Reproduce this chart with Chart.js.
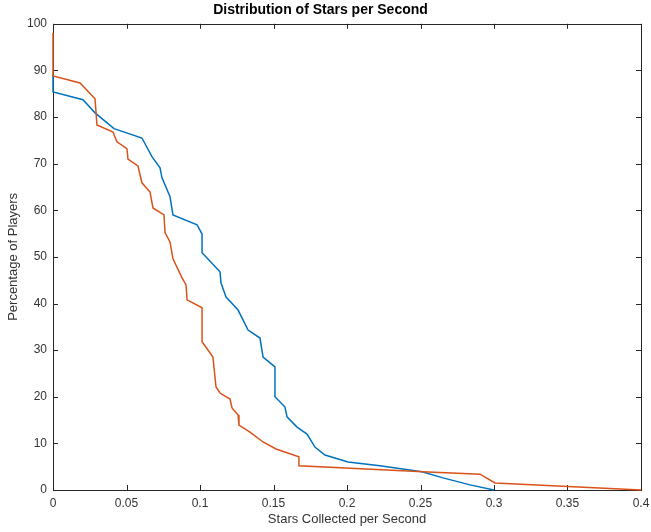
<!DOCTYPE html>
<html lang="en">
<head>
  <meta charset="UTF-8">
  <title>Distribution of Stars per Second</title>
  <style>
    html, body { margin: 0; padding: 0; background: #ffffff; }
    #wrap { width: 651px; height: 532px; }
  </style>
  <script src="https://cdn.jsdelivr.net/npm/chart.js"></script>
</head>
<body>
  <div id="wrap"><canvas id="chart" width="651" height="532"></canvas></div>

  <script>
    // Series (x = stars per second, y = % of players)
    const blueX = [0, 0, 0.0204, 0.0286, 0.0415, 0.0605, 0.0673, 0.0728, 0.0741, 0.0796, 0.0816,
      0.098, 0.1014, 0.1014, 0.1136, 0.1143, 0.1177, 0.1259, 0.1327, 0.1408, 0.1429, 0.151, 0.151,
      0.1578, 0.1592, 0.166, 0.1728, 0.1782, 0.185, 0.2007, 0.2224, 0.251, 0.2653, 0.2837, 0.3];
    const blueY = [89.1, 85.4, 83.7, 80.9, 77.5, 75.5, 71.5, 69.1, 67.0, 62.9, 59.0,
      56.9, 54.9, 50.9, 46.8, 44.4, 41.4, 38.6, 34.3, 32.6, 28.5, 26.4, 20.0,
      17.8, 15.7, 13.5, 12.0, 9.2, 7.5, 6.0, 5.2, 3.9, 2.6, 1.1, 0];

    const orangeX = [0, 0, 0.0184, 0.0286, 0.0299, 0.0408, 0.0435, 0.0503, 0.051, 0.0578, 0.0605,
      0.066, 0.068, 0.0755, 0.0762, 0.0796, 0.0816, 0.0878, 0.0905, 0.0912, 0.1014, 0.1014,
      0.1088, 0.1109, 0.1136, 0.1204, 0.1218, 0.1259, 0.1265, 0.134, 0.1429, 0.1517, 0.1673,
      0.1673, 0.2517, 0.2905, 0.3007, 0.4];
    const orangeY = [98.1, 88.8, 87.3, 83.9, 78.3, 76.8, 74.7, 73.2, 71.0, 69.5, 65.9,
      63.9, 60.5, 59.0, 55.2, 53.2, 49.6, 45.5, 44.0, 40.8, 39.1, 31.8,
      28.5, 22.1, 20.8, 19.5, 17.6, 16.1, 13.9, 12.4, 10.3, 8.8, 7.1,
      5.2, 3.9, 3.4, 1.5, 0];

    const xTicks = [0, 0.05, 0.1, 0.15, 0.2, 0.25, 0.3, 0.35, 0.4];
    const yTicks = [0, 10, 20, 30, 40, 50, 60, 70, 80, 90, 100];

    const toPoints = (xs, ys) => xs.map((x, i) => ({ x: x, y: ys[i] }));

    const axisColor = '#262626';
    const fontFamily = "'Liberation Sans', Arial, Helvetica, sans-serif";

    // MATLAB style box with inward ticks on all four sides (drawn under the lines)
    const boxTicks = {
      id: 'boxTicks',
      beforeDatasetsDraw(chart) {
        const { ctx, chartArea: a, scales } = chart;
        const len = 5;
        ctx.save();
        ctx.strokeStyle = axisColor;
        ctx.lineWidth = 1;
        ctx.beginPath();
        xTicks.forEach(v => {
          const px = Math.round(scales.x.getPixelForValue(v)) + 0.5;
          ctx.moveTo(px, a.bottom); ctx.lineTo(px, a.bottom - len);
          ctx.moveTo(px, a.top); ctx.lineTo(px, a.top + len);
        });
        yTicks.forEach(v => {
          const py = Math.round(scales.y.getPixelForValue(v)) + 0.5;
          ctx.moveTo(a.left, py); ctx.lineTo(a.left + len, py);
          ctx.moveTo(a.right, py); ctx.lineTo(a.right - len, py);
        });
        ctx.stroke();
        ctx.strokeRect(Math.round(a.left) + 0.5, Math.round(a.top) + 0.5,
          Math.round(a.right - a.left), Math.round(a.bottom - a.top));
        ctx.restore();
      }
    };

    new Chart(document.getElementById('chart'), {
      type: 'scatter',
      data: {
        datasets: [
          {
            label: 'orange',
            data: toPoints(orangeX, orangeY),
            borderColor: '#D95319',
            showLine: true,
            borderWidth: 1.5,
            pointRadius: 0,
            tension: 0,
            clip: 3
          },
          {
            label: 'blue',
            data: toPoints(blueX, blueY),
            borderColor: '#0072BD',
            showLine: true,
            borderWidth: 1.5,
            pointRadius: 0,
            tension: 0,
            clip: 3
          }
        ]
      },
      options: {
        responsive: false,
        animation: false,
        layout: { padding: { left: 0, right: 10, top: 0, bottom: 0 } },
        plugins: {
          legend: { display: false },
          tooltip: { enabled: false },
          title: {
            display: true,
            text: 'Distribution of Stars per Second',
            color: '#000000',
            font: { family: fontFamily, size: 14, weight: 'bold' },
            padding: { top: 2, bottom: 5 }
          }
        },
        scales: {
          x: {
            type: 'linear',
            min: 0,
            max: 0.4,
            afterFit(scale) {
              scale.height = 42;
              scale.paddingLeft = 0;
              scale.paddingRight = 0;
            },
            afterBuildTicks(scale) { scale.ticks = xTicks.map(v => ({ value: v })); },
            grid: { display: false, drawTicks: false },
            border: { display: false },
            ticks: {
              color: '#333333',
              padding: 6,
              maxRotation: 0,
              autoSkip: false,
              font: { family: fontFamily, size: 12 },
              callback: v => String(Number(v.toFixed(2)))
            },
            title: {
              display: true,
              text: 'Stars Collected per Second',
              color: '#333333',
              font: { family: fontFamily, size: 13 },
              padding: { top: 2, bottom: 5 }
            }
          },
          y: {
            type: 'linear',
            min: 0,
            max: 100,
            afterFit(scale) { scale.width = 53; },
            afterBuildTicks(scale) { scale.ticks = yTicks.map(v => ({ value: v })); },
            grid: { display: false, drawTicks: false },
            border: { display: false },
            ticks: {
              color: '#333333',
              padding: 6,
              autoSkip: false,
              font: { family: fontFamily, size: 12 }
            },
            title: {
              display: true,
              text: 'Percentage of Players',
              color: '#333333',
              font: { family: fontFamily, size: 13 },
              padding: { top: 6, bottom: 2 }
            }
          }
        }
      },
      plugins: [boxTicks]
    });
  </script>
</body>
</html>
